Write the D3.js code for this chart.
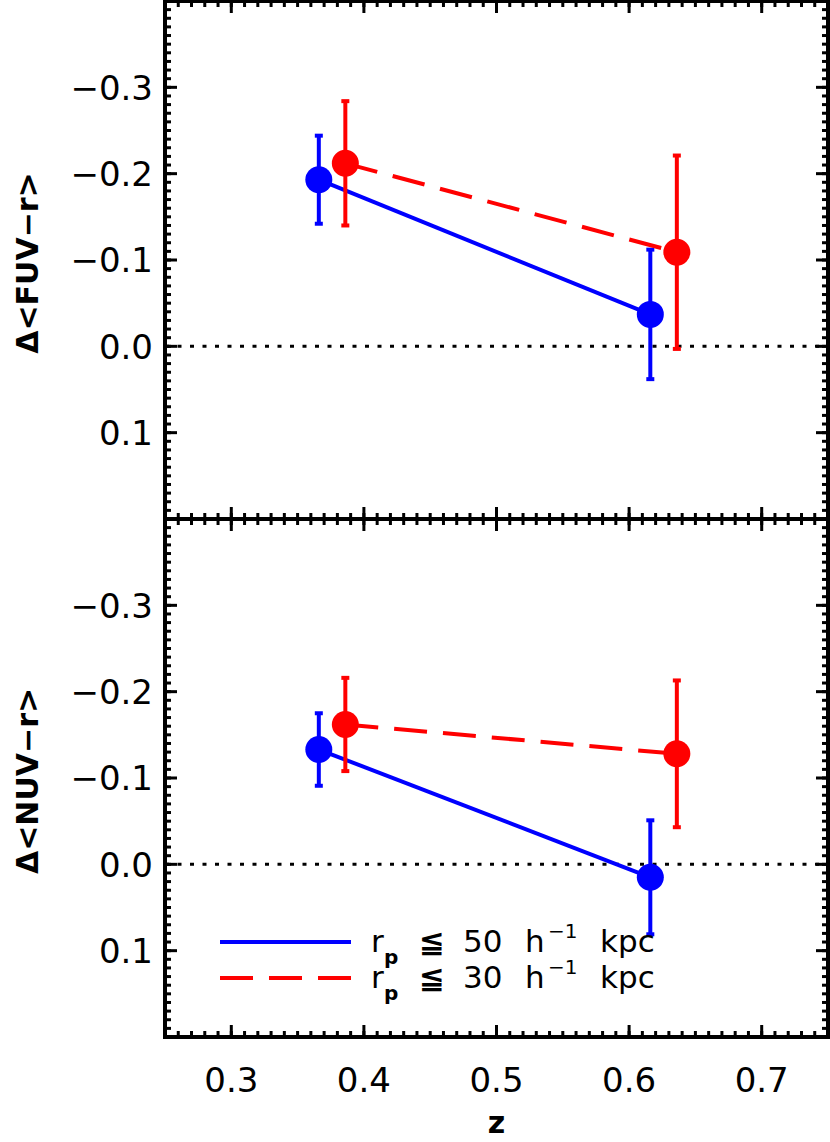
<!DOCTYPE html>
<html lang="en">
  <head>
    <meta charset="utf-8">
    <style type="text/css">
      body { margin: 0; background-color: #fff; }
      #visualization { width: 830px; height: 1142px; }
      text { font-family: "DejaVu Sans", sans-serif; fill: #000; }
    </style>
  </head>
  <body>
    <div id="visualization">
      <svg width="830" height="1142"></svg>
    </div>

    <script src="https://d3js.org/d3.v7.min.js"></script>
    <script type="text/javascript">
        // DATA
        var zBlue = [0.366, 0.616];
        var zRed  = [0.386, 0.636];

        // top panel: delta <FUV-r>
        var fuvBlue    = [-0.193, -0.037];
        var fuvBlueErr = [0.051, 0.075];
        var fuvRed     = [-0.212, -0.109];
        var fuvRedErr  = [0.072, 0.112];

        // bottom panel: delta <NUV-r>
        var nuvBlue    = [-0.133, 0.015];
        var nuvBlueErr = [0.042, 0.066];
        var nuvRed     = [-0.162, -0.128];
        var nuvRedErr  = [0.054, 0.085];

        var xTicks = [0.3, 0.4, 0.5, 0.6, 0.7];
        var yTicks = [-0.3, -0.2, -0.1, 0.0, 0.1];
        var xDomain = [0.25, 0.75];
        var yDomain = [-0.4, 0.2];
        var panelLabels = ["\u0394<FUV\u2212r>", "\u0394<NUV\u2212r>"];

        // SETUP
        var svg = d3.select("#visualization").select("svg");
        var left = 165, right = 828;
        var panelTop = [1, 519], panelH = 518;

        var x = d3.scaleLinear().domain(xDomain).range([left, right]);

        var fmt = function(d) {
            var s = Math.abs(d).toFixed(1);
            return (d < -1e-9 ? "\u2212" : "") + s;
        };

        function minorTicks(dom, step) {
            var out = [];
            var n = Math.round((dom[1] - dom[0]) / step);
            for (var i = 1; i < n; i++) out.push(dom[0] + i * step);
            return out;
        }
        var xMinor = minorTicks(xDomain, 0.01);
        var yMinor = minorTicks(yDomain, 0.01);

        function drawPanel(idx, blue, blueErr, red, redErr) {
            var top = panelTop[idx], bottom = top + panelH;
            var y = d3.scaleLinear().domain(yDomain).range([top, bottom]);
            var g = svg.append("g");

            // zero line
            g.append("line")
                .attr("x1", left).attr("x2", right)
                .attr("y1", y(0)).attr("y2", y(0))
                .attr("stroke", "#000").attr("stroke-width", 3)
                .attr("stroke-dasharray", "4,8.5");

            // ticks
            var tk = g.append("g").attr("stroke", "#000").attr("stroke-width", 3);
            function xt(vals, len) {
                vals.forEach(function(v) {
                    tk.append("line").attr("x1", x(v)).attr("x2", x(v))
                        .attr("y1", bottom).attr("y2", bottom - len);
                    tk.append("line").attr("x1", x(v)).attr("x2", x(v))
                        .attr("y1", top).attr("y2", top + len);
                });
            }
            function yt(vals, len) {
                vals.forEach(function(v) {
                    tk.append("line").attr("y1", y(v)).attr("y2", y(v))
                        .attr("x1", left).attr("x2", left + len);
                    tk.append("line").attr("y1", y(v)).attr("y2", y(v))
                        .attr("x1", right).attr("x2", right - len);
                });
            }
            xt(xMinor, 6); xt(xTicks, 12);
            yt(yMinor, 6); yt(yTicks, 12);

            // frame
            g.append("rect")
                .attr("x", left).attr("y", top)
                .attr("width", right - left).attr("height", panelH)
                .attr("fill", "none").attr("stroke", "#000").attr("stroke-width", 4);

            // y tick labels
            g.selectAll(".ylab").data(yTicks).enter().append("text")
                .attr("x", 153).attr("y", function(d) { return y(d); })
                .attr("dy", "0.36em")
                .attr("text-anchor", "end")
                .style("font-size", "34px")
                .text(fmt);

            // y axis title
            g.append("text")
                .attr("transform", "translate(27," + (top + 262) + ") rotate(-90)")
                .attr("text-anchor", "middle")
                .attr("dy", "0.36em")
                .style("font-size", "30px")
                .style("font-weight", "bold")
                .text(panelLabels[idx]);

            // series
            function series(zs, vals, errs, color, dash) {
                var pts = zs.map(function(z, i) { return {z: z, v: vals[i], e: errs[i]}; });
                var line = d3.line().x(function(d) { return x(d.z); }).y(function(d) { return y(d.v); });
                g.append("path").datum(pts)
                    .attr("d", line).attr("fill", "none")
                    .attr("stroke", color).attr("stroke-width", 4)
                    .attr("stroke-dasharray", dash);
                var eb = g.append("g").attr("stroke", color);
                pts.forEach(function(d) {
                    eb.append("line").attr("x1", x(d.z)).attr("x2", x(d.z))
                        .attr("y1", y(d.v - d.e)).attr("y2", y(d.v + d.e))
                        .attr("stroke-width", 4);
                    [d.v - d.e, d.v + d.e].forEach(function(c) {
                        eb.append("line").attr("x1", x(d.z) - 4).attr("x2", x(d.z) + 4)
                            .attr("y1", y(c)).attr("y2", y(c))
                            .attr("stroke-width", 4);
                    });
                });
                g.selectAll(null).data(pts).enter().append("circle")
                    .attr("cx", function(d) { return x(d.z); })
                    .attr("cy", function(d) { return y(d.v); })
                    .attr("r", 13.5).attr("fill", color);
            }
            series(zBlue, blue, blueErr, "#0000ff", null);
            series(zRed, red, redErr, "#ff0000", "33,16");
        }

        drawPanel(0, fuvBlue, fuvBlueErr, fuvRed, fuvRedErr);
        drawPanel(1, nuvBlue, nuvBlueErr, nuvRed, nuvRedErr);

        // x tick labels + title
        svg.selectAll(".xlab").data(xTicks).enter().append("text")
            .attr("x", function(d) { return x(d); })
            .attr("y", 1092)
            .attr("text-anchor", "middle")
            .style("font-size", "34px")
            .text(fmt);
        svg.append("text")
            .attr("x", x(0.5)).attr("y", 1133)
            .attr("text-anchor", "middle")
            .style("font-size", "30px")
            .style("font-weight", "bold")
            .text("z");

        // legend
        var legendItems = [
            {color: "#0000ff", dash: null, num: "50", y: 942},
            {color: "#ff0000", dash: "33,16", num: "30", y: 978}
        ];
        legendItems.forEach(function(d) {
            svg.append("line")
                .attr("x1", 220).attr("x2", 351)
                .attr("y1", d.y).attr("y2", d.y)
                .attr("stroke", d.color).attr("stroke-width", 4)
                .attr("stroke-dasharray", d.dash);
            var base = d.y + 10;
            var parts = [
                {t: "r", x: 371, dy: 0, fs: 31, fw: "normal"},
                {t: "p", x: 384, dy: 12, fs: 20, fw: "bold"},
                {t: "\u2266", x: 419, dy: 0, fs: 31, fw: "bold"},
                {t: d.num, x: 463, dy: 0, fs: 31, fw: "normal"},
                {t: "h", x: 525, dy: 0, fs: 31, fw: "normal"},
                {t: "\u22121", x: 548, dy: -14, fs: 20, fw: "normal"},
                {t: "kpc", x: 600, dy: 0, fs: 31, fw: "normal"}
            ];
            parts.forEach(function(p) {
                svg.append("text")
                    .attr("x", p.x).attr("y", base + p.dy)
                    .style("font-size", p.fs + "px")
                    .style("font-weight", p.fw)
                    .text(p.t);
            });
        });
    </script>
  </body>
</html>
